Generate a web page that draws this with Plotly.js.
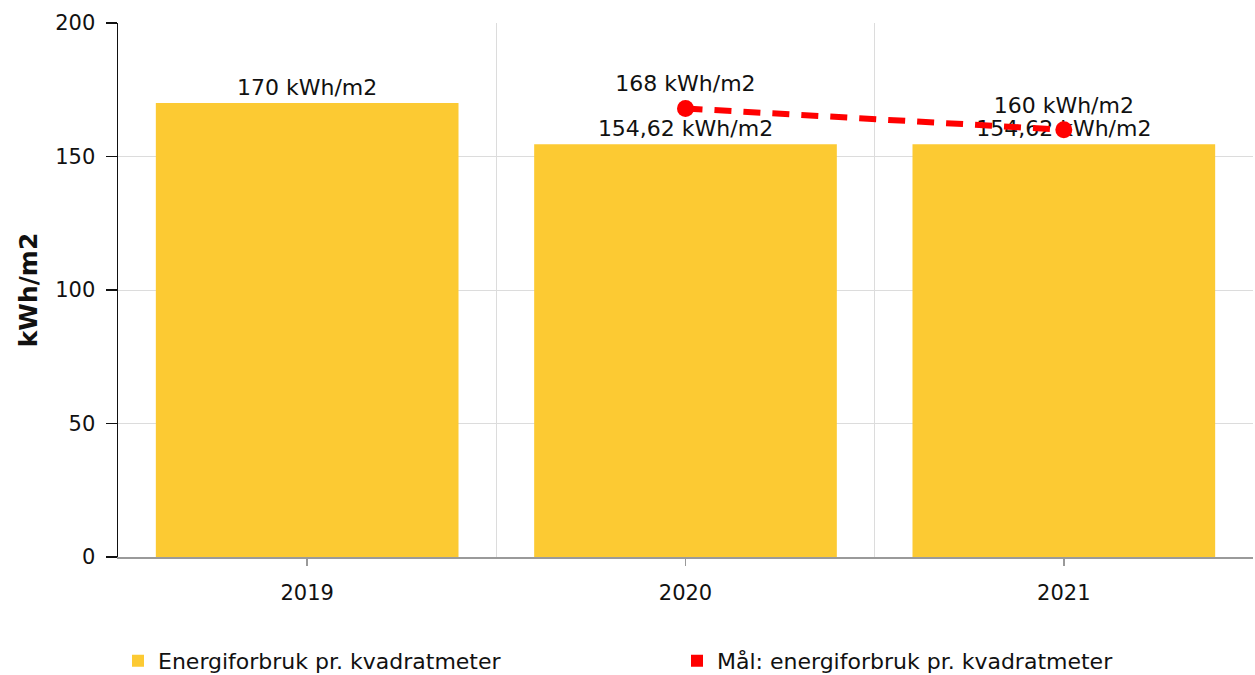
<!DOCTYPE html>
<html>
<head>
<meta charset="utf-8">
<script src="https://cdn.plot.ly/plotly-3.0.1.min.js"></script>
<style>
  html, body { margin: 0; padding: 0; background: #fff; }
  #chart { width: 1255px; height: 675px; }
</style>
</head>
<body>
<div id="chart"></div>
<script>
// Data
const years = ['2019', '2020', '2021'];
const usageValues = [170, 154.62, 154.62];
const targetYears = ['2020', '2021'];
const targetValues = [168, 160];
const usageName = 'Energiforbruk pr. kvadratmeter';
const targetName = 'Mål: energiforbruk pr. kvadratmeter';
const yTicks = [0, 50, 100, 150, 200];

const FONT = 'DejaVu Sans, Verdana, sans-serif';
const BAR_COLOR = '#fcca33';
const RED = '#ff0000';

const traces = [
  {
    type: 'bar',
    x: years,
    y: usageValues,
    name: usageName,
    marker: { color: BAR_COLOR },
    texttemplate: '%{y} kWh/m2',
    textposition: 'outside',
    textfont: { family: FONT, size: 22, color: '#111' },
    cliponaxis: false,
    hoverinfo: 'skip',
    xaxis: 'x',
    yaxis: 'y'
  },
  {
    // legend entry for target (square symbol as in reference)
    type: 'bar',
    x: targetYears,
    y: targetYears.map(() => null),
    name: targetName,
    marker: { color: RED },
    legendgroup: 'target',
    hoverinfo: 'skip',
    xaxis: 'x2',
    yaxis: 'y'
  },
  {
    type: 'scatter',
    mode: 'lines+markers+text',
    x: targetYears,
    y: targetValues,
    name: targetName,
    legendgroup: 'target',
    showlegend: false,
    line: { color: RED, width: 6, dash: '17px,12px' },
    marker: { color: RED, size: 17 },
    texttemplate: '%{y} kWh/m2',
    textposition: 'top center',
    textfont: { family: FONT, size: 22, color: '#111' },
    cliponaxis: false,
    hoverinfo: 'skip',
    xaxis: 'x2',
    yaxis: 'y'
  }
];

const layout = {
  width: 1255,
  height: 675,
  margin: { l: 118, r: 2, t: 23, b: 118 },
  paper_bgcolor: '#fff',
  plot_bgcolor: '#fff',
  separators: ', ',
  font: { family: FONT, size: 22, color: '#111' },
  bargap: 0.2,
  showlegend: true,
  legend: {
    orientation: 'h',
    x: 0,
    xanchor: 'left',
    yref: 'container',
    y: 0.021,
    yanchor: 'middle',
    font: { family: FONT, size: 22, color: '#111' },
    entrywidth: 514,
    entrywidthmode: 'pixels',
    traceorder: 'normal'
  },
  xaxis: {
    type: 'category',
    categoryorder: 'array',
    categoryarray: years,
    range: [-0.5, 2.5],
    tickson: 'boundaries',
    ticks: '',
    showgrid: true,
    gridcolor: '#dcdcdc',
    gridwidth: 1,
    showline: true,
    linecolor: '#9a9a9a',
    linewidth: 1.5,
    tickfont: { family: FONT, size: 21, color: '#111' },
    ticklabelstandoff: 16,
    fixedrange: true
  },
  xaxis2: {
    type: 'category',
    categoryorder: 'array',
    categoryarray: years,
    range: [-0.5, 2.5],
    overlaying: 'x',
    anchor: 'y',
    side: 'bottom',
    ticks: 'outside',
    ticklen: 8,
    tickwidth: 1.5,
    tickcolor: '#9a9a9a',
    showticklabels: false,
    showgrid: false,
    showline: false,
    fixedrange: true
  },
  yaxis: {
    range: [0, 200],
    tickvals: yTicks,
    ticktext: yTicks.map(String),
    ticks: 'outside',
    ticklen: 11,
    tickwidth: 1.5,
    tickcolor: '#111',
    showline: true,
    linecolor: '#111',
    linewidth: 1.5,
    showgrid: true,
    gridcolor: '#dcdcdc',
    gridwidth: 1,
    zeroline: false,
    tickfont: { family: FONT, size: 21, color: '#111' },
    ticklabelstandoff: 6,
    title: {
      text: '<b>kWh/m2</b>',
      font: { family: FONT, size: 25, color: '#111' },
      standoff: 10
    },
    fixedrange: true
  }
};

Plotly.newPlot('chart', traces, layout, { displayModeBar: false, staticPlot: true });
</script>
</body>
</html>
